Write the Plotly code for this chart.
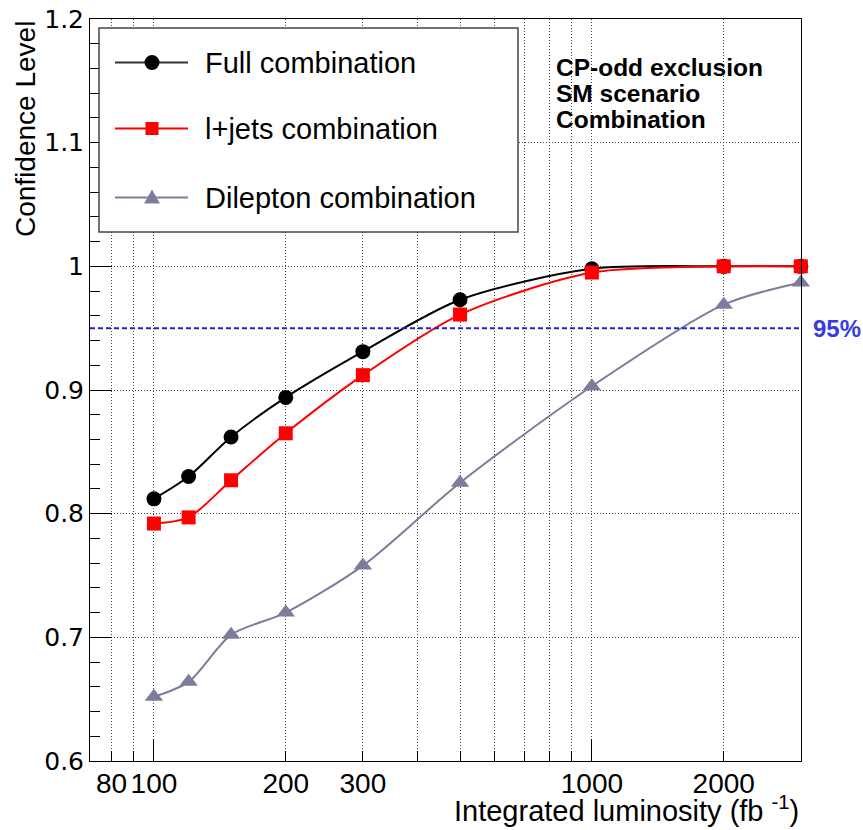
import plotly.graph_objects as go

# ---------------- data ----------------
lumi = [100, 120, 150, 200, 300, 500, 1000, 2000, 3000]
cl_full = [0.812, 0.830, 0.862, 0.894, 0.931, 0.973, 0.998, 1.000, 1.000]
cl_ljets = [0.792, 0.797, 0.827, 0.865, 0.912, 0.961, 0.995, 1.000, 1.000]
cl_dilep = [0.652, 0.664, 0.702, 0.720, 0.758, 0.825, 0.903, 0.969, 0.987]
series_names = ["Full combination", "l+jets combination", "Dilepton combination"]
x_tickvals = [80, 90, 100, 200, 300, 400, 500, 600, 700, 800, 900, 1000, 2000, 3000]
x_ticktext = ["80", "", "100", "200", "300", "", "", "", "", "", "", "1000", "2000", ""]
x_long_ticks = [100, 1000]
cl_threshold = 0.95
info_lines = ["CP-odd exclusion", "SM scenario", "Combination"]

# ---------------- layout geometry (pixels) ----------------
W, H = 863, 830
L, R, T, B = 90, 801, 19, 761
PW, PH = R - L, B - T


def px(xp):
    return (xp - L) / PW


def py(yp):
    return (B - yp) / PH


FONT = "Liberation Sans, Arial, Helvetica, sans-serif"
YFONT = "DejaVu Sans, Verdana, sans-serif"
C_FULL = "black"
C_LJ = "#ff0000"
C_DI = "#7c7c9c"
GRID = "#444444"
XRANGE = [1.854, 3.4775]

fig = go.Figure()
styles = [
    (cl_full, C_FULL, "circle", 15),
    (cl_ljets, C_LJ, "square", 14),
    (cl_dilep, C_DI, "triangle-up", 16),
]
for (vals, col, sym, sz), name in zip(styles, series_names):
    fig.add_trace(go.Scatter(
        x=lumi, y=vals, name=name, mode="lines+markers",
        line=dict(color=col, width=2, shape="spline", smoothing=0.8),
        marker=dict(color=col, symbol=sym, size=sz, line=dict(width=0)),
        showlegend=False, cliponaxis=False,
    ))

# invisible trace on overlay axis for long decade ticks
fig.add_trace(go.Scatter(x=[], y=[], xaxis="x2", yaxis="y", showlegend=False))

fig.update_layout(
    template="none",
    width=W, height=H,
    margin=dict(l=L, r=W - R, t=T, b=H - B, pad=0),
    paper_bgcolor="white", plot_bgcolor="white",
    font=dict(family=FONT, color="black"),
    showlegend=False,
    xaxis=dict(
        type="log", range=XRANGE, automargin=False,
        tickmode="array", tickvals=x_tickvals, ticktext=x_ticktext,
        ticks="inside", ticklen=10, tickwidth=1, tickcolor="black",
        tickfont=dict(size=28, family=FONT, color="black"),
        ticklabelstandoff=-3,
        showgrid=True, gridcolor=GRID, griddash="1px,2px", gridwidth=1,
        showline=True, linecolor="black", linewidth=1, mirror=True,
        zeroline=False,
    ),
    xaxis2=dict(
        type="log", range=XRANGE, overlaying="x", anchor="y", side="bottom",
        automargin=False,
        tickmode="array", tickvals=x_long_ticks, ticks="inside", ticklen=22,
        tickwidth=1, tickcolor="black", showticklabels=False, showgrid=False,
        showline=False, zeroline=False,
    ),
    yaxis=dict(
        range=[0.6, 1.2], dtick=0.1, tick0=0.6, automargin=False,
        ticks="inside", ticklen=22, tickwidth=1, tickcolor="black",
        tickfont=dict(size=25, family=YFONT, color="black"),
        tickformat="~g",
        minor=dict(dtick=0.02, ticks="inside", ticklen=10, tickcolor="black", showgrid=False),
        showgrid=True, gridcolor=GRID, griddash="1px,2px", gridwidth=1,
        showline=True, linecolor="black", linewidth=1, mirror=True,
        zeroline=False,
    ),
)

shapes = []
# 95% line
shapes.append(dict(type="line", xref="paper", yref="y", x0=0, x1=1,
                   y0=cl_threshold, y1=cl_threshold,
                   line=dict(color="#2020d8", width=2, dash="5px,3px")))

# manual legend box
shapes.append(dict(type="rect", xref="paper", yref="paper",
                   x0=px(99), x1=px(518), y0=py(28), y1=py(232),
                   fillcolor="white", line=dict(color="#444444", width=1.5),
                   layer="above"))
leg_y = [62.5, 128.5, 197.5]
leg_cols = [("#333333", C_FULL), (C_LJ, C_LJ), (C_DI, C_DI)]
for yy, (lc, mc) in zip(leg_y, leg_cols):
    shapes.append(dict(type="line", xref="paper", yref="paper",
                       x0=px(115), x1=px(188), y0=py(yy), y1=py(yy),
                       line=dict(color=lc, width=2), layer="above"))
cx = px(152)
shapes.append(dict(type="circle", xref="paper", yref="paper",
                   xsizemode="pixel", ysizemode="pixel",
                   xanchor=cx, yanchor=py(leg_y[0]),
                   x0=-7.5, x1=7.5, y0=-7.5, y1=7.5,
                   fillcolor=C_FULL, line=dict(width=0), layer="above"))
shapes.append(dict(type="rect", xref="paper", yref="paper",
                   xsizemode="pixel", ysizemode="pixel",
                   xanchor=cx, yanchor=py(leg_y[1]),
                   x0=-6.5, x1=6.5, y0=-6.5, y1=6.5,
                   fillcolor=C_LJ, line=dict(width=0), layer="above"))
shapes.append(dict(type="path", xref="paper", yref="paper",
                   xsizemode="pixel", ysizemode="pixel",
                   xanchor=cx, yanchor=py(leg_y[2]),
                   path="M -8,-6 L 8,-6 L 0,8 Z",
                   fillcolor=C_DI, line=dict(width=0), layer="above"))
fig.update_layout(shapes=shapes)

ann = []
for yy, name in zip(leg_y, series_names):
    ann.append(dict(xref="paper", yref="paper", x=px(203), y=py(yy + 1),
                    xanchor="left", yanchor="middle", showarrow=False,
                    text=name, font=dict(size=29, family=FONT, color="black")))
for yy, line in zip([67, 93.5, 119.5], info_lines):
    ann.append(dict(xref="paper", yref="paper", x=px(554), y=py(yy),
                    xanchor="left", yanchor="middle", showarrow=False,
                    text="<b>" + line + "</b>",
                    font=dict(size=24.5, family=FONT, color="black")))
ann.append(dict(xref="paper", yref="y", x=px(811), y=cl_threshold,
                xanchor="left", yanchor="middle", showarrow=False,
                text="<b>95%</b>", font=dict(size=24, family=FONT, color="#3a3ae0")))
ann.append(dict(xref="paper", yref="paper", x=px(801), y=py(809),
                xanchor="right", yanchor="middle", showarrow=False,
                text="Integrated luminosity (fb <sup>-1</sup>)",
                font=dict(size=29, family=FONT, color="black")))
ann.append(dict(xref="paper", yref="paper", x=px(25), y=py(19),
                xanchor="center", yanchor="top", showarrow=False, textangle=-90,
                text="Confidence Level",
                font=dict(size=28, family=FONT, color="black")))
fig.update_layout(annotations=ann)

fig.write_html("out.html")
